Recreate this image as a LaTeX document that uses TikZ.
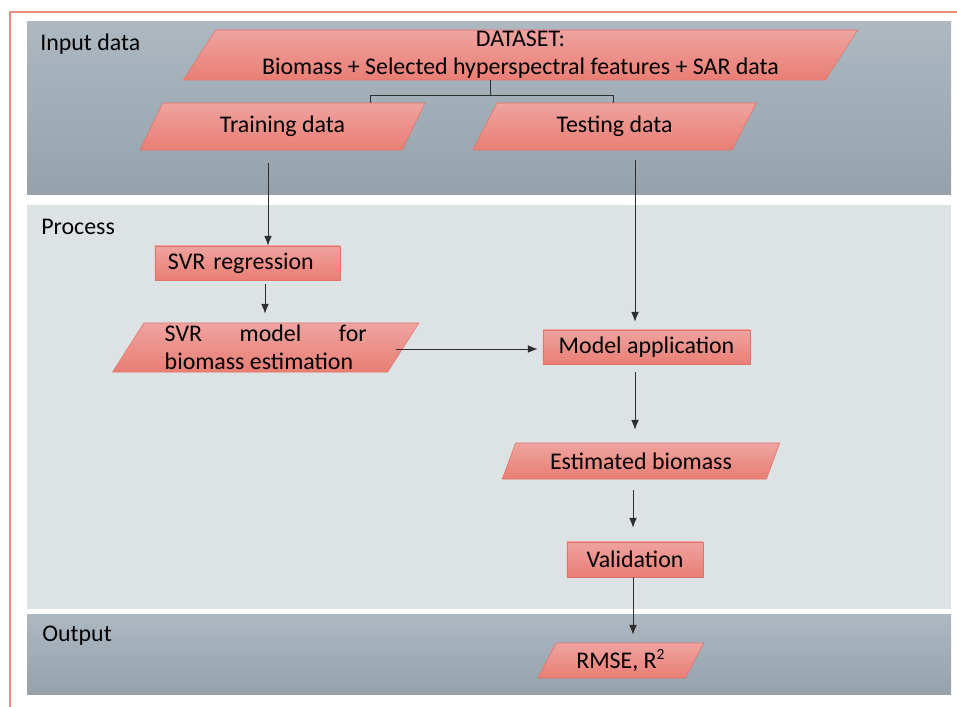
\documentclass[tikz,border=0pt]{standalone}
\usepackage{fontspec}
\setmainfont{Carlito}
\usetikzlibrary{arrows.meta,calc,shapes.geometric,positioning}
\definecolor{frameline}{HTML}{E8907A}
\definecolor{bandtop}{HTML}{ADB8C1}
\definecolor{bandbot}{HTML}{95A2AC}
\definecolor{bandlight}{HTML}{DDE2E4}
\definecolor{boxtop}{HTML}{EFA3A0}
\definecolor{boxbot}{HTML}{E97E74}
\definecolor{boxline}{HTML}{E27468}
\definecolor{arrowgrey}{HTML}{2E2E2E}
\tikzset{%
	databox/.style = {draw=boxline, top color=boxtop, bottom color=boxbot, trapezium, trapezium left angle=60, trapezium right angle=120, trapezium stretches=true, inner sep=0pt, text centered, font=\fontsize{17}{20}\selectfont},
	procbox/.style = {draw=boxline, top color=boxtop, bottom color=boxbot, rectangle, inner sep=0pt, text centered, font=\fontsize{17}{20}\selectfont},
	bandlabel/.style = {anchor=west, inner sep=0pt, font=\fontsize{17}{20}\selectfont},
	arrow/.style = {arrowgrey, line width=0.7pt, -{Latex[length=7pt,width=5.5pt]}},
	branch/.style = {arrowgrey, line width=0.7pt},
}
\begin{document}
\begin{tikzpicture}[x=0.025cm, y=-0.025cm]
		\useasboundingbox (0,0) rectangle (957,707);
		% frame and bands
		\draw[frameline, line width=1pt] (10,707) -- (10,12) -- (957,12);
		\shade[top color=bandtop, bottom color=bandbot] (27,22) rectangle (951,195);
		\fill[bandlight] (27,205) rectangle (951,609);
		\shade[top color=bandtop, bottom color=bandbot] (27,614) rectangle (951,694);
		\node[bandlabel] (lblin) at (40,44) {Input data};
		\node[bandlabel] (lblproc) at (41,227) {Process};
		\node[bandlabel] (lblout) at (42,636) {Output};
		
		% input data
		\node[databox, minimum width=16.875cm, minimum height=1.25cm, align=center] (dataset) at (520.5,55) {DATASET:\\Biomass + Selected hyperspectral features + SAR data};
		\node[databox, minimum width=7.125cm, minimum height=1.175cm] (train) at (282.5,126.5) {Training data};
		\node[databox, minimum width=7.125cm, minimum height=1.175cm] (test) at (614.5,126.5) {Testing data};
		\coordinate (fork) at (490,95);
		\coordinate (forkL) at (370,95);
		\coordinate (forkR) at (613,95);
		\draw[branch] (fork |- dataset.south) -- (fork);
		\draw[branch] (train.north -| forkL) |- (forkR) -- (test.north -| forkR);
		
		% process
		\node[procbox, minimum width=4.625cm, minimum height=0.85cm, text width=3.975cm, align=left] (svrreg) at (247.5,263) {SVR regression};
		\node[databox, minimum width=7.675cm, minimum height=1.225cm, text width=5.05cm, align=justify] (svrmod) at (265.75,347.5) {SVR model for biomass estimation};
		\node[procbox, minimum width=5.175cm, minimum height=0.85cm] (modapp) at (646.5,347) {Model application};
		\node[databox, minimum width=6.95cm, minimum height=0.9cm] (estbio) at (641,461) {Estimated biomass};
		\node[procbox, minimum width=3.4cm, minimum height=0.875cm] (valid) at (635,559.5) {Validation};
		
		% output
		\node[databox, minimum width=4.15cm, minimum height=0.875cm] (rmse) at (620.75,660.5) {RMSE, R\textsuperscript{\fontsize{11}{12}\selectfont 2}};
		
		% arrows
		\coordinate (colA) at (268,0);
		\coordinate (colB) at (265,0);
		\coordinate (colC) at (635,0);
		\coordinate (colD) at (633,0);
		\coordinate (rowA) at (0,349);
		\draw[arrow] ($(train.south -| colA)+(0,13)$) -- (svrreg.north -| colA);
		\draw[arrow] ($(svrreg.south -| colB)+(0,4)$) -- ($(svrmod.north -| colB)+(0,-9)$);
		\draw[arrow] ($(svrmod.east |- rowA)+(-8,0)$) -- ($(modapp.west |- rowA)+(-5,0)$);
		\draw[arrow] ($(test.south -| colC)+(0,10)$) -- ($(modapp.north -| colC)+(0,-8)$);
		\draw[arrow] ($(modapp.south -| colC)+(0,8)$) -- ($(estbio.north -| colC)+(0,-13)$);
		\draw[arrow] ($(estbio.south -| colD)+(0,11)$) -- ($(valid.north -| colD)+(0,-14)$);
		\draw[arrow] (valid.south -| colD) -- ($(rmse.north -| colD)+(0,-8)$);
\end{tikzpicture}
\end{document}
